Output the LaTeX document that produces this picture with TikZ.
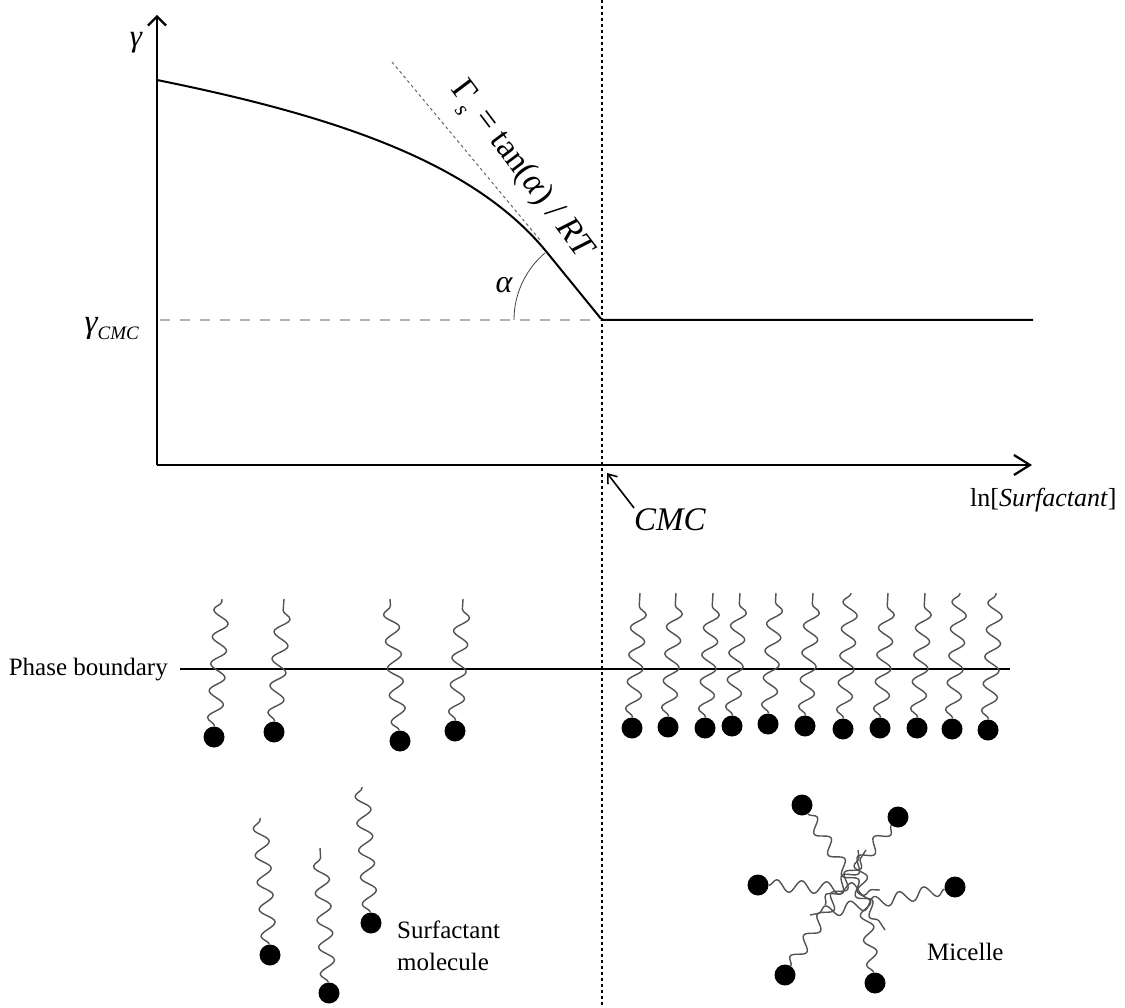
\documentclass[tikz,border=0pt]{standalone}
\usepackage{fontspec}
\setmainfont{Liberation Serif}
\usetikzlibrary{arrows.meta,decorations.pathmorphing}
\newcommand{\fs}[1]{\fontsize{#1}{#1}\selectfont}
\begin{document}
\begin{tikzpicture}[x=1pt,y=-1pt,
  axis/.style={line width=2.2pt},
  curveline/.style={line width=2pt},
  tangentline/.style={draw=black!60, line width=1pt, dash pattern=on 3pt off 3pt},
  levelline/.style={draw=black!30, line width=1.4pt, dash pattern=on 10pt off 10pt},
  cmcline/.style={line width=2pt, dash pattern=on 3pt off 3pt},
  head/.style={circle, fill=black, inner sep=0pt, minimum size=21pt},
  tail/.style={draw=black!68, line width=1.4pt, decorate,
    decoration={snake, segment length=27pt, amplitude=7.5pt}},
  mtail/.style={draw=black!68, line width=1.4pt, decorate,
    decoration={snake, segment length=25pt, amplitude=6pt}},
  lbl/.style={inner sep=0pt, font=\fs{25}}
]
\useasboundingbox (0,0) rectangle (1125,1008);

% ---------- axes ----------
\coordinate (O) at (157,465);
\coordinate (ytop) at (157,15);
\coordinate (xend) at (1032,465);
\draw[axis, -{Straight Barb[length=9pt,width=18pt]}] (O) -- (ytop);
\draw[axis, -{Straight Barb[length=16pt,width=20pt]}] (O) -- (xend);

\node[anchor=base, inner sep=0pt] (gam) at (136,47) {\fs{31}\itshape γ};
\node[anchor=base east, inner sep=0pt] (gcmc) at (139,333)
  {\fs{33}\itshape γ\raisebox{-7pt}{\fs{19}CMC}};
\node[anchor=base west, inner sep=0pt] (xlab) at (970,506)
  {\fs{26}ln[\textit{Surfactant}]};

% ---------- isotherm ----------
\coordinate (c0) at (157,80);
\coordinate (ct) at (545,250);
\coordinate (cmc) at (602,320);
\coordinate (cend) at (1033,320);
\draw[curveline] (c0) .. controls (330,115) and (470,160) .. (ct) -- (cmc) -- (cend);

\coordinate (gl) at (160,320);
\draw[levelline] (gl) -- (cmc);

\coordinate (tg0) at (392,62);
\coordinate (tg1) at (540,240);
\draw[tangentline] (tg0) -- (tg1);

\draw[line width=0.8pt, draw=black!75]
  plot[domain=130.4:180, samples=40, smooth] ({602+88*cos(\x)},{320-88*sin(\x)});
\node[inner sep=0pt] (alpha) at (504,285) {\fs{32}\itshape α};

\node[rotate=-53, inner sep=0pt] (slope) at (521,171)
  {\fs{34}Γ\raisebox{-10pt}{\fs{22}\itshape s} = tan(\textit{α}) / \textit{RT}};

% ---------- CMC marker ----------
\coordinate (vtop) at (602,0);
\coordinate (vbot) at (602,1008);
\draw[cmcline] (vtop) -- (vbot);

\node[anchor=base west, inner sep=0pt] (cmclab) at (634,530) {\fs{33}\itshape CMC};
\coordinate (cmcpt) at (607,473);
\draw[line width=1.6pt, -{Straight Barb[length=8pt,width=12pt]}] (cmclab.north west) -- (cmcpt);

% ---------- phase boundary ----------
\node[lbl, anchor=base east] (pb) at (168,675) {Phase boundary};
\coordinate (pbl) at (180,669);
\coordinate (pbr) at (1010,669);
\draw[line width=2pt] (pbl) -- (pbr);

% adsorbed molecules, dilute side
\foreach \i/\hx/\hy/\tx in {1/214/737/222, 2/274/732/284, 3/400/741/390, 4/455/731/463}{
  \node[head] (a\i) at (\hx,\hy) {};
  \coordinate (at\i) at (\tx,599);
  \draw[tail] (a\i) -- (at\i);
}

% adsorbed molecules, saturated side
\foreach \i/\hx/\hy in {1/632/728, 2/668/727, 3/705/728, 4/732/726, 5/768/724, 6/805/726,
                        7/843/729, 8/880/728, 9/917/728, 10/952/729, 11/988/730}{
  \node[head] (b\i) at (\hx,\hy) {};
  \coordinate (bt\i) at (\hx+8,593);
  \draw[tail] (b\i) -- (bt\i);
}

% ---------- free surfactant molecules ----------
\foreach \i/\hx/\hy/\tx/\ty in {1/270/955/260/818, 2/329/993/320/848, 3/371/923/362/787}{
  \node[head] (f\i) at (\hx,\hy) {};
  \coordinate (ft\i) at (\tx,\ty);
  \draw[tail] (f\i) -- (ft\i);
}
\node[inner sep=0pt, anchor=west, align=left, font={\fontsize{25}{32}\selectfont}] (molname) at (397,946)
  {Surfactant\\molecule};

% ---------- micelle ----------
\foreach \i/\hx/\hy/\tx/\ty in {1/802/805/885/930, 2/898/817/825/905, 3/758/885/880/890,
                                4/955/887/810/915, 5/785/975/866/850, 6/875/983/858/850}{
  \node[head] (m\i) at (\hx,\hy) {};
  \coordinate (mt\i) at (\tx,\ty);
  \draw[mtail] (m\i) -- (mt\i);
}
\node[lbl, anchor=base west] (micname) at (927,960) {Micelle};

\end{tikzpicture}
\end{document}
